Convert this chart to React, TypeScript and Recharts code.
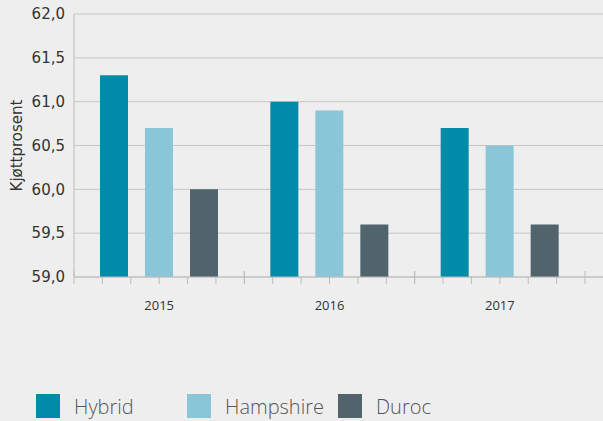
import { BarChart, Bar, XAxis, YAxis, CartesianGrid, Legend } from "recharts"

const YEARS = ["2015", "2016", "2017"]
const HYBRID = [61.3, 61.0, 60.7]
const HAMPSHIRE = [60.7, 60.9, 60.5]
const DUROC = [60.0, 59.6, 59.6]
const Y_TICKS = [59, 59.5, 60, 60.5, 61, 61.5, 62]

const SERIES = [
  { key: "Hybrid", values: HYBRID, color: "#008ba8" },
  { key: "Hampshire", values: HAMPSHIRE, color: "#8ac5d8" },
  { key: "Duroc", values: DUROC, color: "#51646e" },
]

const data = YEARS.map((year, i) => {
  const row: Record<string, any> = { year }
  for (const s of SERIES) row[s.key] = s.values[i]
  return row
})

const AXIS_COLOR = "#bdbdbd"
const TICK_MARGIN = 24

// year label plus the small tick marks across the band (6 per year)
const renderYearTick = (props: any) => {
  const { x, y, payload } = props
  const half = payload.offset || 0
  const axisY = y - TICK_MARGIN
  const step = (half * 2) / 6
  const marks = []
  for (let k = -3; k <= 3; k++) {
    const major = k === -3 || k === 3
    const tx = x + k * step
    marks.push(
      <line key={k} x1={tx} x2={tx} y1={major ? axisY - 6 : axisY} y2={axisY + 7} stroke={AXIS_COLOR} />
    )
  }
  return (
    <g>
      {marks}
      <text x={x} y={y} dy="0.71em" textAnchor="middle" fontFamily="Open Sans" fontSize={13} fill="#333">
        {payload.value}
      </text>
    </g>
  )
}

function LegendContent() {
  return (
    <div style={{ height: 114, paddingTop: 84, boxSizing: "border-box", display: "flex", paddingLeft: 36 }}>
      {SERIES.map((s) => (
        <div key={s.key} style={{ width: 151, display: "flex", alignItems: "center" }}>
          <div style={{ width: 24, height: 24, background: s.color, marginRight: 14 }} />
          <span style={{ fontFamily: "Open Sans", fontWeight: 300, fontSize: 20, color: "#555" }}>{s.key}</span>
        </div>
      ))}
    </div>
  )
}

export default function App() {
  return (
    <div style={{ position: "absolute", left: 0, top: 0, width: 603, height: 421, background: "#eeeeee" }}>
      <BarChart
        width={603}
        height={421}
        data={data}
        margin={{ top: 14, right: 0, left: 0, bottom: 0 }}
        barCategoryGap={26}
        barGap={17}
      >
        <CartesianGrid vertical={false} stroke="#c6c6c6" />
        <XAxis
          dataKey="year"
          height={30}
          padding={{ left: 0, right: 18 }}
          axisLine={{ stroke: AXIS_COLOR }}
          tickLine={false}
          tickSize={0}
          tickMargin={TICK_MARGIN}
          interval={0}
          tick={renderYearTick}
        />
        <YAxis
          domain={[59, 62]}
          ticks={Y_TICKS}
          width={74}
          interval={0}
          tickFormatter={(v: number) => v.toFixed(1).replace(".", ",")}
          tickSize={0}
          tickMargin={9}
          tickLine={false}
          axisLine={{ stroke: AXIS_COLOR }}
          tick={{ fontFamily: "DejaVu Sans", fontSize: 15, fill: "#333" }}
          label={{
            value: "Kjøttprosent",
            angle: -90,
            position: "insideLeft",
            offset: 17,
            style: { textAnchor: "middle", fontFamily: "DejaVu Sans", fontSize: 15, fill: "#333" },
          }}
        />
        <Legend verticalAlign="bottom" content={<LegendContent />} />
        {SERIES.map((s) => (
          <Bar key={s.key} dataKey={s.key} fill={s.color} isAnimationActive={false} />
        ))}
      </BarChart>
    </div>
  )
}
